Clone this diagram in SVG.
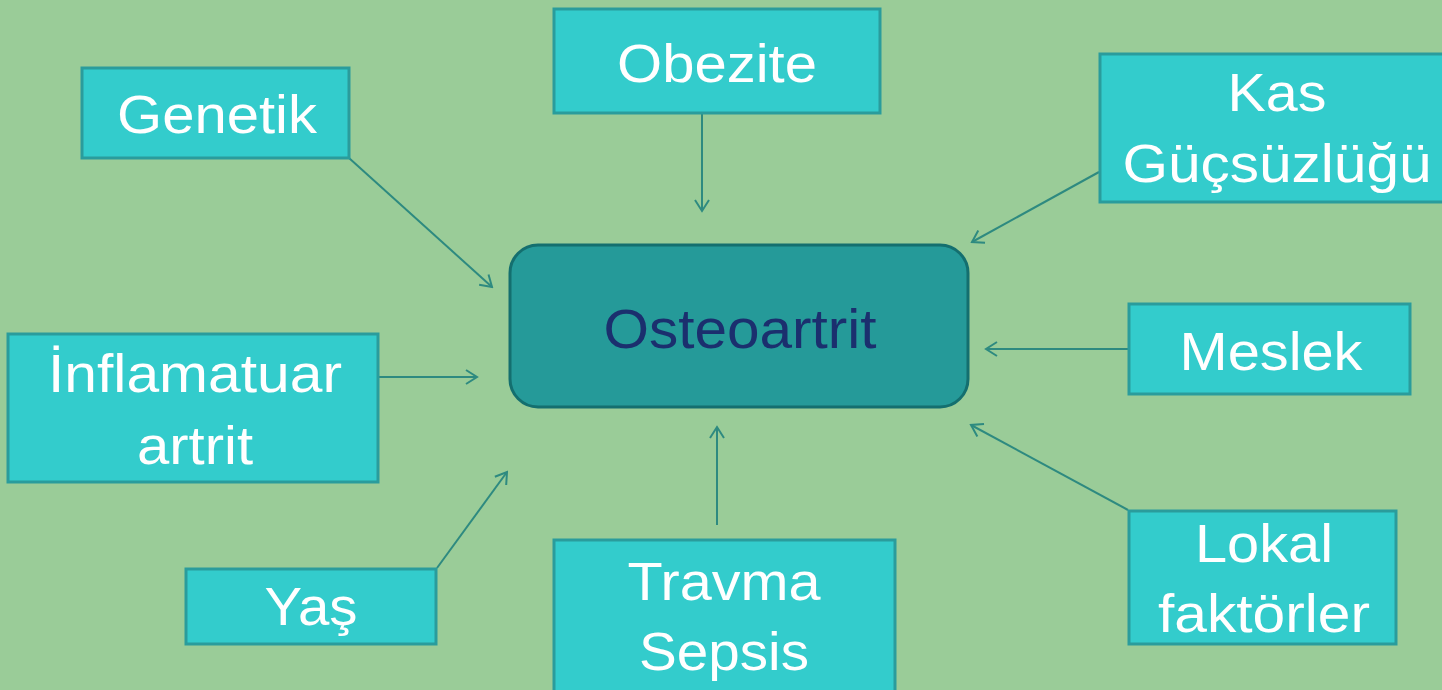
<svg xmlns="http://www.w3.org/2000/svg" width="1442" height="690" viewBox="0 0 1442 690">
<defs>
<marker id="ah" viewBox="0 0 20 20" refX="18" refY="10" markerWidth="20" markerHeight="20" markerUnits="userSpaceOnUse" orient="auto">
<path d="M7,3 L18,10 L7,17" fill="none" stroke="#2E8A80" stroke-width="2"/>
</marker>
</defs>
<style>
.box{fill:#33CCCC;stroke:#2A9C9C;stroke-width:3}
.lbl{font-family:"Liberation Sans",Arial,sans-serif;font-size:54px;fill:#FFFFFF;text-anchor:middle}
.conn{stroke:#2E8A80;stroke-width:2;fill:none;marker-end:url(#ah)}
</style>
<rect width="1442" height="690" fill="#9ACC98"/>
<g id="connectors">
<line class="conn" x1="702" y1="113" x2="702" y2="211"/>
<line class="conn" x1="349" y1="158" x2="492" y2="287"/>
<line class="conn" x1="1099" y1="172" x2="972" y2="242"/>
<line class="conn" x1="379" y1="377" x2="477" y2="377"/>
<line class="conn" x1="1128" y1="349" x2="986" y2="349"/>
<line class="conn" x1="437" y1="568" x2="507" y2="472"/>
<line class="conn" x1="1128" y1="510" x2="971" y2="425"/>
<line class="conn" x1="717" y1="525" x2="717" y2="427"/>
</g>
<g id="osteoartrit">
<rect x="510" y="245" width="458" height="162" rx="28" fill="#259A99" stroke="#146F6F" stroke-width="3"/>
<text x="740" y="348" font-family="'Liberation Sans',Arial,sans-serif" font-size="55" fill="#1B2F6E" text-anchor="middle" textLength="273" lengthAdjust="spacingAndGlyphs">Osteoartrit</text>
</g>
<g id="genetik">
<rect class="box" x="82" y="68" width="267" height="90"/>
<text class="lbl" x="217" y="133" textLength="200" lengthAdjust="spacingAndGlyphs">Genetik</text>
</g>
<g id="obezite">
<rect class="box" x="554" y="9" width="326" height="104"/>
<text class="lbl" x="717" y="82" textLength="200" lengthAdjust="spacingAndGlyphs">Obezite</text>
</g>
<g id="kas">
<rect class="box" x="1100" y="54" width="360" height="148"/>
<text class="lbl" x="1277" y="111" textLength="99" lengthAdjust="spacingAndGlyphs">Kas</text>
<text class="lbl" x="1277" y="182" textLength="309" lengthAdjust="spacingAndGlyphs">Güçsüzlüğü</text>
</g>
<g id="inflamatuar">
<rect class="box" x="8" y="334" width="370" height="148"/>
<text class="lbl" x="195" y="392" textLength="294" lengthAdjust="spacingAndGlyphs">İnflamatuar</text>
<text class="lbl" x="195" y="464" textLength="116" lengthAdjust="spacingAndGlyphs">artrit</text>
</g>
<g id="meslek">
<rect class="box" x="1129" y="304" width="281" height="90"/>
<text class="lbl" x="1271" y="370" textLength="183" lengthAdjust="spacingAndGlyphs">Meslek</text>
</g>
<g id="yas">
<rect class="box" x="186" y="569" width="250" height="75"/>
<text class="lbl" x="311" y="625" textLength="93" lengthAdjust="spacingAndGlyphs">Yaş</text>
</g>
<g id="lokal">
<rect class="box" x="1129" y="511" width="267" height="133"/>
<text class="lbl" x="1264" y="562" textLength="138" lengthAdjust="spacingAndGlyphs">Lokal</text>
<text class="lbl" x="1264" y="632" textLength="212" lengthAdjust="spacingAndGlyphs">faktörler</text>
</g>
<g id="travma">
<rect class="box" x="554" y="540" width="341" height="160"/>
<text class="lbl" x="724" y="600" textLength="193" lengthAdjust="spacingAndGlyphs">Travma</text>
<text class="lbl" x="724" y="670" textLength="170" lengthAdjust="spacingAndGlyphs">Sepsis</text>
</g>
</svg>
